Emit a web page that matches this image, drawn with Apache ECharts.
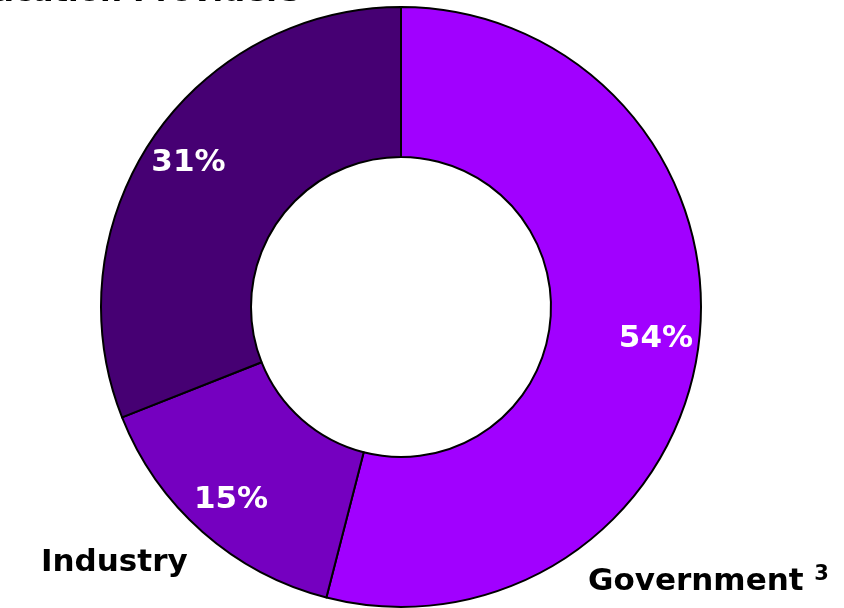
<!DOCTYPE html>
<html>
<head>
<meta charset="utf-8">
<script src="https://cdn.jsdelivr.net/npm/echarts@6/dist/echarts.min.js"></script>
<style>
  html, body { margin: 0; padding: 0; background: #fff; }
  #chart { width: 844px; height: 608px; }
</style>
</head>
<body>
<div id="chart"></div>
<script>
// Share of funding by source (percent)
const categories = ['Government', 'Industry', 'Education Providers'];
const footnotes = ['3', '', ''];
const shares = [54, 15, 31];
const sliceColors = ['#A100FF', '#7500C0', '#460073'];

// Where each category name sits around the ring
const namePlacement = [
  { x: 588, y: 582, align: 'left' },
  { x: 41, y: 563, align: 'left' },
  { x: 300, y: -7, align: 'right' }
];

const FONT = '"DejaVu Sans", "Liberation Sans", sans-serif';
const CENTER = [401, 307];

const data = categories.map((name, i) => ({
  name,
  value: shares[i],
  itemStyle: { color: sliceColors[i] }
}));

const chart = echarts.init(document.getElementById('chart'), null, { renderer: 'canvas' });
chart.setOption({
  animation: false,
  backgroundColor: '#ffffff',
  series: [
    {
      // the ring itself, with category names outside
      type: 'pie',
      center: CENTER,
      radius: [150, 300],
      startAngle: 90,
      clockwise: true,
      silent: true,
      avoidLabelOverlap: false,
      itemStyle: { borderColor: '#000000', borderWidth: 2 },
      label: {
        show: true,
        position: 'outside',
        formatter: (p) => {
          const note = footnotes[p.dataIndex];
          return note ? `{name|${p.name} }{sup|${note}}` : `{name|${p.name}}`;
        },
        color: '#000000',
        fontFamily: FONT,
        fontWeight: 'bold',
        fontSize: 31,
        overflow: 'none',
        rich: {
          name: { fontFamily: FONT, fontWeight: 'bold', fontSize: 31, color: '#000000', lineHeight: 36 },
          sup: { fontFamily: FONT, fontWeight: 'bold', fontSize: 21, color: '#000000', verticalAlign: 'top' }
        }
      },
      labelLine: { show: false },
      labelLayout: (params) => {
        const p = namePlacement[params.dataIndex];
        return { x: p.x, y: p.y, align: p.align, verticalAlign: 'middle' };
      },
      data
    },
    {
      // transparent outer band that carries the percentage labels
      type: 'pie',
      center: CENTER,
      radius: [208, 300],
      startAngle: 90,
      clockwise: true,
      silent: true,
      avoidLabelOverlap: false,
      itemStyle: { color: 'rgba(0,0,0,0)', borderWidth: 0 },
      label: {
        show: true,
        position: 'inside',
        formatter: '{c}%',
        color: '#ffffff',
        fontFamily: FONT,
        fontWeight: 'bold',
        fontSize: 31
      },
      labelLine: { show: false },
      data: categories.map((name, i) => ({ name, value: shares[i] }))
    }
  ]
});
</script>
</body>
</html>
